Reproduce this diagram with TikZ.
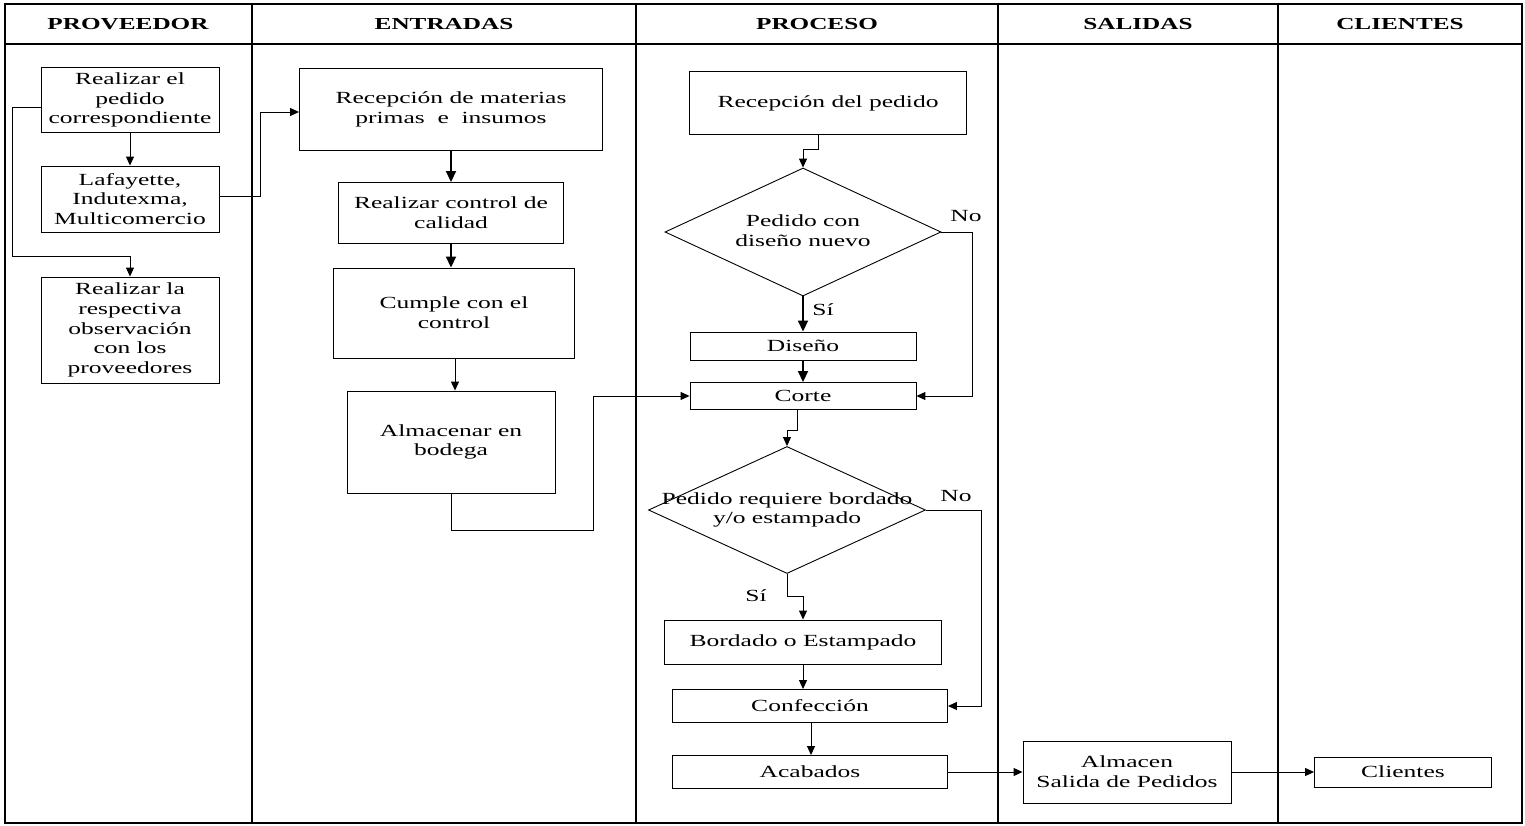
\documentclass[tikz,border=0pt]{standalone}
\usepackage{fontspec}
\setmainfont{Liberation Serif}[FakeStretch=1.5]
\usetikzlibrary{arrows.meta,shapes.geometric}
\begin{document}
\begin{tikzpicture}[x=1pt,y=-1pt,
  txt/.style={font=\fontsize{17}{19.8}\selectfont},
  box/.style={txt,draw,line width=0.9pt,inner sep=0pt,align=center},
  dia/.style={diamond,draw,line width=0.9pt,inner sep=0pt},
  hdr/.style={font=\fontsize{16.8}{19.5}\selectfont\bfseries},
  lane/.style={line width=1.3pt},
  arr/.style={line width=1pt,-{Triangle[length=9pt,width=8pt]}},
  thk/.style={line width=1.8pt,-{Triangle[length=11pt,width=10pt]}},
  ln/.style={line width=1pt}
]
\useasboundingbox (0,0) rectangle (1525,825);

% swimlane frame
\draw[lane] (5,4) rectangle (1522,823);
\draw[lane] (5,44) -- (1522,44);
\foreach \xx in {252,636,998,1278} \draw[lane] (\xx,4) -- (\xx,823);

% lane titles
\node[hdr] (h1) at (128,24) {PROVEEDOR};
\node[hdr] (h2) at (444,24) {ENTRADAS};
\node[hdr] (h3) at (817,24) {PROCESO};
\node[hdr] (h4) at (1138,24) {SALIDAS};
\node[hdr] (h5) at (1400,24) {CLIENTES};

% PROVEEDOR
\node[box,minimum width=178,minimum height=65] (r1) at (130,100) {Realizar el\\pedido\\correspondiente};
\node[box,minimum width=178,minimum height=66] (r2) at (130,199) {Lafayette,\\Indutexma,\\Multicomercio};
\node[box,minimum width=178,minimum height=106] (r3) at (130,330) {Realizar la\\respectiva\\observación\\con los\\proveedores};

% ENTRADAS
\node[box,minimum width=303,minimum height=82] (e1) at (451,109) {Recepción de materias\\primas\ \ e\ \ insumos};
\node[box,minimum width=225,minimum height=61] (e2) at (451,213) {Realizar control de\\calidad};
\node[box,minimum width=241,minimum height=90] (e3) at (454,313) {Cumple con el\\control};
\node[box,minimum width=208,minimum height=102] (e4) at (451,442) {Almacenar en\\bodega};

% PROCESO
\node[box,minimum width=277,minimum height=63] (p1) at (828,103) {Recepción del pedido};
\node[dia,minimum width=276,minimum height=128] (d1) at (803,232) {};
\node[txt,align=center] (d1t) at (803,231) {Pedido con\\diseño nuevo};
\node[box,minimum width=226,minimum height=28] (dis) at (803,346) {Diseño};
\node[box,minimum width=226,minimum height=27] (cut) at (803,396) {Corte};
\node[dia,minimum width=277,minimum height=127] (d2) at (787,510) {};
\node[txt,align=center] (d2t) at (787,510) {Pedido requiere bordado\\y/o estampado};
\node[box,minimum width=277,minimum height=44] (bord) at (803,642) {Bordado o Estampado};
\node[box,minimum width=275,minimum height=33] (conf) at (810,706) {Confección};
\node[box,minimum width=275,minimum height=33] (acab) at (810,772) {Acabados};

\node[txt] (no1) at (966,216) {No};
\node[txt] (si1) at (823,310) {Sí};
\node[txt] (no2) at (956,496) {No};
\node[txt] (si2) at (756,596) {Sí};

% SALIDAS / CLIENTES
\node[box,minimum width=208,minimum height=62] (alm) at (1127,772) {Almacen\\Salida de Pedidos};
\node[box,minimum width=177,minimum height=30] (cli) at (1403,772) {Clientes};

% connectors
\coordinate (k0) at (12,256);
\coordinate (k1) at (593,530);
\draw[arr] ([yshift=-7pt]r1.west) -| (k0) -| (r3.north);
\draw[arr] (r1.south) -- (r2.north);
\draw[arr] ([yshift=3pt]r2.east) -- ++(41,0) |- ([yshift=-3pt]e1.west);
\draw[thk] (e1.south) -- (e2.north);
\draw[thk] (e2.south) -- (e2.south |- e3.north);
\draw[arr] ([xshift=1pt]e3.south) -- ([xshift=1pt]e3.south |- e4.north);
\draw[arr] (e4.south) |- (k1) |- (cut.west);

\draw[arr] ([xshift=-10pt]p1.south) -- ++(0,15) -| (d1.north);
\draw[thk] (d1.south) -- (dis.north);
\draw[arr] (d1.east) -- ++(31,0) |- (cut.east);
\draw[thk] (dis.south) -- (cut.north);
\draw[arr] ([xshift=-6pt]cut.south) -- ++(0,21) -| (d2.north);
\draw[arr] (d2.south) -- ++(0,23) -| (bord.north);
\draw[arr] (d2.east) -- ++(56,0) |- (conf.east);
\draw[arr] (bord.south) -- (bord.south |- conf.north);
\draw[arr] ([xshift=1pt]conf.south) -- ([xshift=1pt]acab.north);
\draw[arr] (acab.east) -- (alm.west);
\draw[arr] (alm.east) -- (cli.west);
\end{tikzpicture}
\end{document}
